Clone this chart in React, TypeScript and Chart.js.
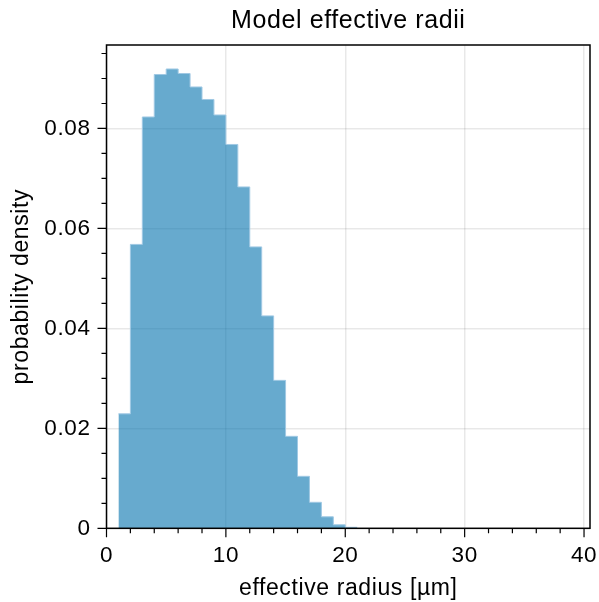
import React, { useEffect, useRef } from 'react';
import { Chart, registerables } from 'chart.js';

Chart.register(...registerables);

// ---- data ----
const binStarts = [1, 2, 3, 4, 5, 6, 7, 8, 9, 10, 11, 12, 13, 14, 15, 16, 17, 18, 19, 20];
const binWidth = 1;
const densities = [
  0.0229, 0.0568, 0.0823, 0.0908, 0.0919, 0.0910, 0.0883, 0.0858, 0.0827, 0.0768,
  0.0683, 0.0563, 0.0425, 0.0296, 0.0184, 0.0104, 0.0052, 0.0023, 0.0007, 0.0002,
];
const xMajorTicks = [0, 10, 20, 30, 40];
const xMinorTicks = [2, 4, 6, 8, 12, 14, 16, 18, 22, 24, 26, 28, 32, 34, 36, 38];
const yMajorTicks = [0, 0.02, 0.04, 0.06, 0.08];
const yMinorTicks = [0.005, 0.01, 0.015, 0.025, 0.03, 0.035, 0.045, 0.05, 0.055, 0.065, 0.07, 0.075, 0.085, 0.09, 0.095];
const xLimits = [0, 40.5];
const yLimits = [0, 0.0967];
const titleText = 'Model effective radii';
const xLabel = 'effective radius [µm]';
const yLabel = 'probability density';

const FONT = "'Liberation Sans', Arial, Helvetica, sans-serif";
const SPACING = '0.6px';

// histogram outline as step points at the bin edges (each bin's value held over its width)
const stepPoints = [
  ...binStarts.map((s, i) => ({ x: s, y: densities[i] })),
  { x: binStarts[binStarts.length - 1] + binWidth, y: densities[densities.length - 1] },
];

const axesDecor = {
  id: 'axesDecor',
  beforeUpdate(chart: any) {
    chart.ctx.letterSpacing = SPACING;
  },
  beforeLayout(chart: any) {
    chart.ctx.letterSpacing = SPACING;
  },
  beforeDraw(chart: any) {
    chart.ctx.letterSpacing = SPACING;
  },
  afterDraw(chart: any) {
    const { ctx, chartArea: a, scales } = chart;
    const x = scales.x;
    const y = scales.y;
    ctx.save();
    ctx.strokeStyle = '#000';
    ctx.lineWidth = 1.2;
    ctx.beginPath();
    xMajorTicks.forEach((v) => {
      const px = x.getPixelForValue(v);
      ctx.moveTo(px, a.bottom);
      ctx.lineTo(px, a.bottom + 9);
    });
    xMinorTicks.forEach((v) => {
      const px = x.getPixelForValue(v);
      ctx.moveTo(px, a.bottom);
      ctx.lineTo(px, a.bottom + 5);
    });
    yMajorTicks.forEach((v) => {
      const py = y.getPixelForValue(v);
      ctx.moveTo(a.left, py);
      ctx.lineTo(a.left - 9, py);
    });
    yMinorTicks.forEach((v) => {
      const py = y.getPixelForValue(v);
      ctx.moveTo(a.left, py);
      ctx.lineTo(a.left - 5, py);
    });
    ctx.stroke();
    ctx.lineWidth = 1.5;
    ctx.strokeRect(a.left, a.top, a.right - a.left, a.bottom - a.top);
    ctx.restore();
  },
};

export default function App() {
  const canvasRef = useRef<HTMLCanvasElement | null>(null);

  useEffect(() => {
    document.body.style.margin = '0';
    const canvas = canvasRef.current;
    if (!canvas) return;
    const chart = new Chart(canvas, {
      type: 'line',
      data: {
        datasets: [
          {
            data: stepPoints,
            stepped: 'before',
            fill: 'origin',
            backgroundColor: 'rgba(2,113,173,0.6)',
            borderColor: 'rgba(160,201,228,1)',
            borderWidth: 1,
            pointRadius: 0,
            tension: 0,
          } as any,
        ],
      },
      options: {
        animation: false,
        responsive: false,
        devicePixelRatio: 1,
        layout: { padding: { left: 0, right: 9, top: 0, bottom: 0 } },
        plugins: {
          legend: { display: false },
          tooltip: { enabled: false },
          filler: { propagate: false },
          title: {
            display: true,
            text: titleText,
            fullSize: false,
            color: '#000',
            font: { family: FONT, size: 25, weight: 'normal', lineHeight: 1.2 },
            padding: { top: 5.8, bottom: 9.2 },
          },
        },
        scales: {
          x: {
            type: 'linear',
            min: xLimits[0],
            max: xLimits[1],
            offset: false,
            afterFit: (s: any) => {
              s.height = 73.7;
              s.paddingLeft = 0;
              s.paddingRight = 0;
            },
            grid: { color: 'rgba(0,0,0,0.09)', lineWidth: 1.5, drawTicks: false, offset: false },
            border: { display: false },
            ticks: {
              stepSize: 10,
              includeBounds: false,
              padding: 13.5,
              color: '#000',
              maxRotation: 0,
              autoSkip: false,
              font: { family: FONT, size: 22.5 },
            },
            title: {
              display: true,
              text: xLabel,
              color: '#000',
              font: { family: FONT, size: 23, lineHeight: 1 },
              padding: { top: 0, bottom: 1.5 },
            },
          },
          y: {
            type: 'linear',
            min: yLimits[0],
            max: yLimits[1],
            afterFit: (s: any) => {
              s.width = 106.5;
              s.paddingTop = 0;
              s.paddingBottom = 0;
            },
            grid: { color: 'rgba(0,0,0,0.09)', lineWidth: 1.5, drawTicks: false },
            border: { display: false },
            ticks: {
              stepSize: 0.02,
              includeBounds: false,
              padding: 16,
              color: '#000',
              font: { family: FONT, size: 22.5 },
              callback: (v: any) => (Number(v) === 0 ? '0' : Number(v).toFixed(2)),
            },
            title: {
              display: true,
              text: yLabel,
              color: '#000',
              font: { family: FONT, size: 23, lineHeight: 1.2 },
              padding: { top: 8, bottom: 0 },
            },
          },
        },
      } as any,
      plugins: [axesDecor],
    });
    return () => chart.destroy();
  }, []);

  return (
    <div style={{ width: 599, height: 602 }}>
      <canvas ref={canvasRef} width={599} height={602} style={{ display: 'block' }} />
    </div>
  );
}
